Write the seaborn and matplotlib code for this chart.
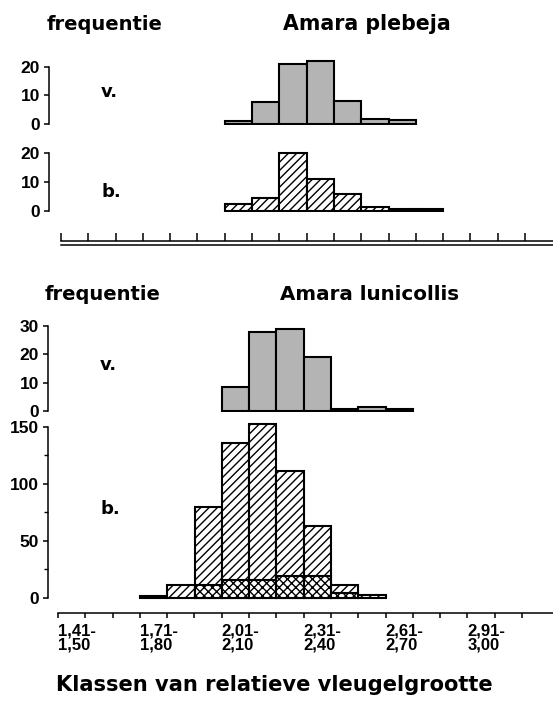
import numpy as np
import pandas as pd
import matplotlib
matplotlib.use("Agg")
import matplotlib.pyplot as plt
import seaborn as sns

# ---------------- data ----------------
# class lower bounds (relative wing size) and frequencies
plebeja_v_lo = [2.01, 2.11, 2.21, 2.31, 2.41, 2.51, 2.61]
plebeja_v = [1.0, 7.5, 21, 22, 8, 1.5, 1.3]

plebeja_b_lo = [2.01, 2.11, 2.21, 2.31, 2.41, 2.51, 2.61, 2.71]
plebeja_b = [2.2, 4.3, 20, 11, 5.9, 1.4, 0.7, 0.7]

lunicollis_v_lo = [2.01, 2.11, 2.21, 2.31, 2.41, 2.51, 2.61]
lunicollis_v = [8.4, 28, 28.8, 19.2, 0.6, 1.5, 0.6]

lunicollis_b_lo = [1.71, 1.81, 1.91, 2.01, 2.11, 2.21, 2.31, 2.41, 2.51]
lunicollis_b = [2, 11, 80, 136, 152, 111, 63, 11, 2.3]

lunicollis_bx_lo = [1.91, 2.01, 2.11, 2.21, 2.31, 2.41]
lunicollis_bx = [11, 15.5, 15.5, 19.5, 19.5, 4.7]

class_start = 1.41
class_width = 0.1
n_ticks = 18
xtick_labels = ["1,41-\n1,50", "1,71-\n1,80", "2,01-\n2,10",
                "2,31-\n2,40", "2,61-\n2,70", "2,91-\n3,00"]

# ---------------- style ----------------
sns.set_style("ticks")
plt.rcParams["font.family"] = ["DejaVu Sans"]
plt.rcParams["hatch.linewidth"] = 1.0
plt.rcParams["axes.linewidth"] = 1.1
for key in ["text.color", "axes.labelcolor", "xtick.color", "ytick.color",
            "axes.edgecolor"]:
    plt.rcParams[key] = "black"

W, H = 553, 702
fig = plt.figure(figsize=(W / 100, H / 100), dpi=100)

XPPU = 273.0  # pixels per x unit
GREY = "#b4b4b4"
NUMFONT = dict(family="Liberation Sans", weight="bold", size=12.5)


def rect(x0, x1, ytop, ybot):
    return [x0 / W, 1 - ybot / H, (x1 - x0) / W, (ybot - ytop) / H]


def data_ax(spine_px, xref_px, y0px, ppu, ylo, yhi):
    ytop = y0px - yhi * ppu
    ybot = y0px - ylo * ppu
    ax = fig.add_axes(rect(spine_px, W, ytop, ybot))
    ax.set_xlim(class_start - (xref_px - spine_px) / XPPU,
                class_start + (W - xref_px) / XPPU)
    ax.set_ylim(ylo, yhi)
    for s in ["top", "right", "bottom"]:
        ax.spines[s].set_visible(False)
    ax.tick_params(axis="y", direction="out", length=3.5, width=1.1, pad=3)
    ax.tick_params(axis="y", which="minor", direction="out", length=3, width=1.0)
    ax.set_xticks([])
    ax.patch.set_alpha(0)
    return ax


def hist(ax, lo, vals, color, hatch):
    lo = np.asarray(lo, dtype=float)
    edges = [float(e) for e in np.r_[lo, lo[-1] + class_width]]
    df = pd.DataFrame({"cls": lo + class_width / 2, "freq": vals})
    sns.histplot(data=df, x="cls", weights="freq", bins=edges, ax=ax,
                 color=color, alpha=1, edgecolor="black", linewidth=1.5,
                 hatch=hatch)
    ax.set_ylabel("")
    ax.set_xlabel("")


def yticks(ax, ticks, top):
    ax.set_yticks(ticks)
    ax.set_yticklabels([str(t) for t in ticks], fontdict=NUMFONT)
    ax.spines["left"].set_bounds(0, top)


# ---------------- top: Amara plebeja ----------------
ax1 = data_ax(49, 61, 123.5, 2.85, -0.5, 23)
hist(ax1, plebeja_v_lo, plebeja_v, GREY, None)
yticks(ax1, [0, 10, 20], 20)

ax2 = data_ax(49, 61, 210.7, 2.87, -0.5, 22)
hist(ax2, plebeja_b_lo, plebeja_b, "white", "////")
yticks(ax2, [0, 10, 20], 20)

# double axis line with upward ticks
axd = fig.add_axes(rect(61, W, 241, 245))
axd.set_xlim(class_start, class_start + (W - 61) / XPPU)
axd.set_ylim(0, 1)
axd.set_yticks([])
for s in ["left", "right"]:
    axd.spines[s].set_visible(False)
axd.xaxis.tick_top()
tick_pos = [class_start + class_width * k for k in range(n_ticks)]
axd.set_xticks(tick_pos)
axd.set_xticklabels([])
axd.tick_params(axis="x", direction="out", length=6, width=1.1)
axd.patch.set_alpha(0)

# ---------------- bottom: Amara lunicollis ----------------
ax3 = data_ax(48, 58, 411, 2.833, -0.5, 31)
hist(ax3, lunicollis_v_lo, lunicollis_v, GREY, None)
yticks(ax3, [0, 10, 20, 30], 30)

ax4 = data_ax(48, 58, 598, 1.142, -13.1, 155)
hist(ax4, lunicollis_b_lo, lunicollis_b, "white", "////")
hist(ax4, lunicollis_bx_lo, lunicollis_bx, "white", "xxxx")
yticks(ax4, [0, 50, 100, 150], 150)
ax4.set_yticks([25, 75, 125], minor=True)
ax4.spines["bottom"].set_visible(True)
ax4.spines["bottom"].set_bounds(class_start, ax4.get_xlim()[1])
ax4.set_xticks(tick_pos)
lab = []
j = 0
for k in range(n_ticks):
    if k % 3 == 0 and j < len(xtick_labels):
        lab.append(xtick_labels[j])
        j += 1
    else:
        lab.append("")
ax4.set_xticklabels(lab, fontdict=dict(family="Liberation Sans", weight="bold",
                                       size=12))
for t in ax4.get_xticklabels():
    t.set_horizontalalignment("left")
    t.set_linespacing(0.95)
ax4.tick_params(axis="x", direction="out", length=3.5, width=1.1, pad=4)

# ---------------- texts ----------------
def ftext(x, y, s, size, **kw):
    fig.text(x / W, 1 - y / H, s, fontsize=size, fontweight="bold",
             va="baseline", **kw)

ftext(47, 30, "frequentie", 14)
ftext(283, 30, "Amara plebeja", 14.8)
ftext(45, 300, "frequentie", 14)
ftext(280, 300, "Amara lunicollis", 14.3)
ftext(101, 97, "v.", 13)
ftext(101, 197, "b.", 13)
ftext(100, 370, "v.", 13)
ftext(100, 514, "b.", 13)
ftext(274, 691, "Klassen van relatieve vleugelgrootte", 15.1, ha="center")

fig.savefig("out.png", dpi=100)
